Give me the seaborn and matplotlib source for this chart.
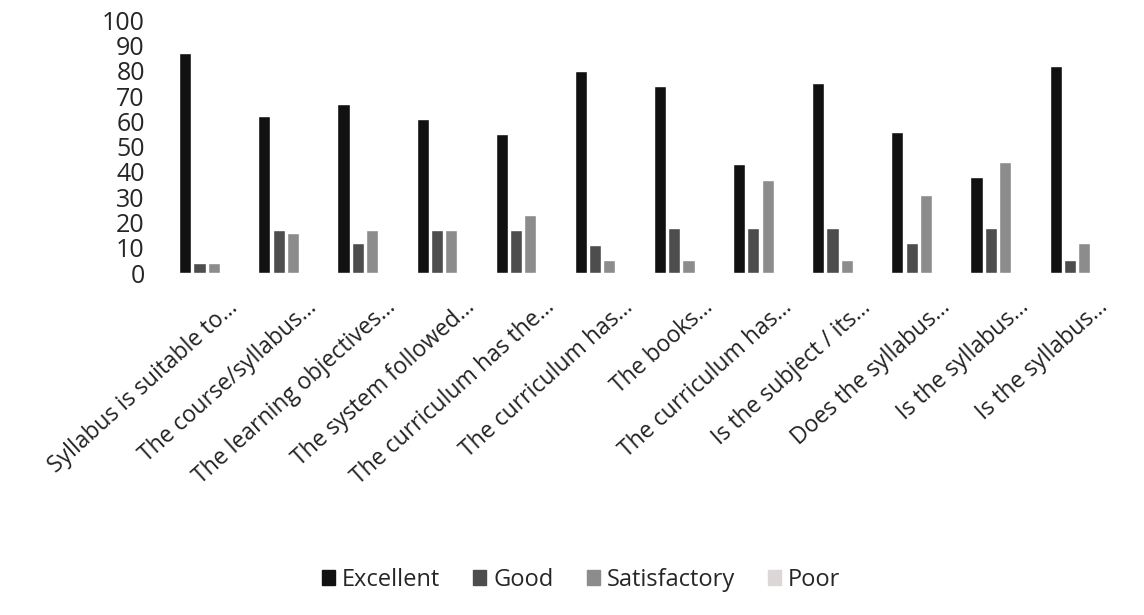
import numpy as np
import pandas as pd
import seaborn as sns
import matplotlib.pyplot as plt
from matplotlib.transforms import ScaledTranslation

# data
questions = ["Syllabus is suitable to...", "The course/syllabus...", "The learning objectives...",
             "The system followed...", "The curriculum has the...", "The curriculum has...",
             "The books...", "The curriculum has...", "Is the subject / its...",
             "Does the syllabus...", "Is the syllabus...", "Is the syllabus..."]
excellent = [87, 62, 67, 61, 55, 80, 74, 43, 75, 56, 38, 82]
good = [4, 17, 12, 17, 17, 11, 18, 18, 18, 12, 18, 5]
satisfactory = [4, 16, 17, 17, 23, 5, 5, 37, 5, 31, 44, 12]
poor = [0, 0, 0, 0, 0, 0, 0, 0, 0, 0, 0, 0]
ratings = ["Excellent", "Good", "Satisfactory", "Poor"]
colors = ["#111111", "#4d4d4d", "#8c8c8c", "#ddd6d6"]

# question ids keep duplicate labels apart
qid = [f"q{i}" for i in range(len(questions))]
df = pd.DataFrame({"Excellent": excellent, "Good": good,
                   "Satisfactory": satisfactory, "Poor": poor}, index=qid)
df = df.reset_index(names="question").melt(id_vars="question", var_name="rating", value_name="value")

sns.set_style("white")
plt.rcParams['font.family'] = ['Open Sans', 'DejaVu Sans']

fig = plt.figure(figsize=(11.44, 6.15), dpi=100)
ax = fig.add_axes([0.146, 0.556, 0.83, 0.411])

sns.barplot(data=df, x="question", y="value", hue="rating", order=qid, hue_order=ratings,
            palette=colors, width=0.72, gap=0.15, ax=ax, legend=False)

ax.set_ylim(0, 100)
ax.set_yticks(range(0, 101, 10))
ax.tick_params(axis='y', labelsize=18, length=0, pad=16)
ax.set_xticks(range(len(questions)))
ax.set_xticklabels(questions, rotation=42, ha='right', rotation_mode='anchor', fontsize=16.5, color='#222222')
ax.tick_params(axis='x', length=0, pad=16)
# push labels a bit right, like the original
offset = ScaledTranslation(20 / 100, 0, fig.dpi_scale_trans)
for lbl in ax.get_xticklabels():
    lbl.set_transform(lbl.get_transform() + offset)
ax.set_xlabel('')
ax.set_ylabel('')
sns.despine(ax=ax, left=True, bottom=True)

handles = [plt.Rectangle((0, 0), 1, 1, color=c) for c in colors]
fig.legend(handles, ratings, loc='center', bbox_to_anchor=(0.508, 0.057), ncol=4, frameon=False,
           fontsize=17, handlelength=0.55, handleheight=0.55, handletextpad=0.3, columnspacing=1.4)

plt.savefig('out.png', dpi=100)
plt.close()
